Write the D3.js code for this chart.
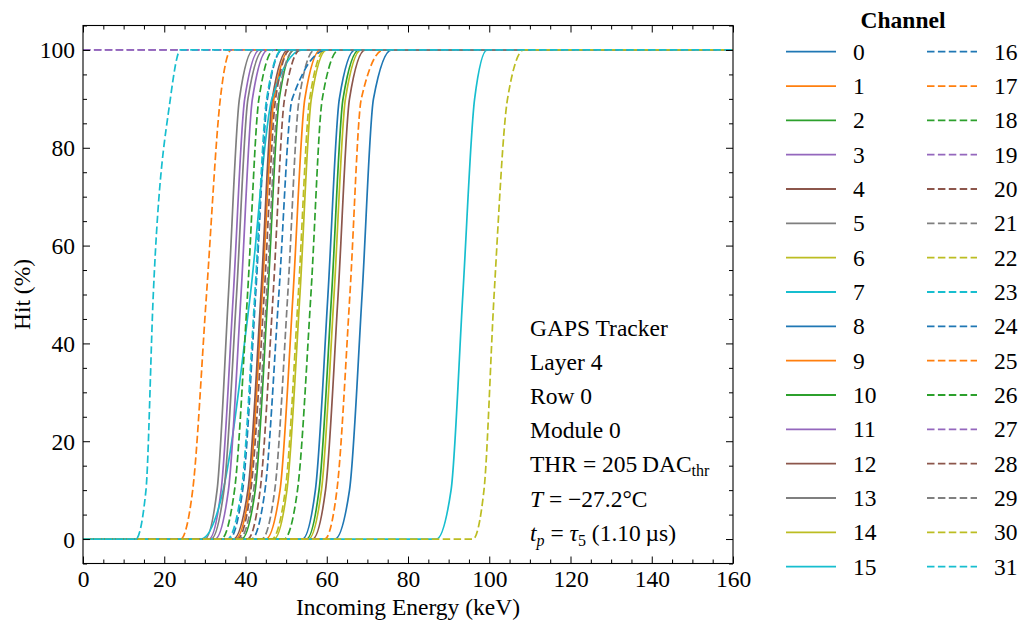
<!DOCTYPE html>
<html>
<head>
<meta charset="utf-8">
<script src="https://cdn.jsdelivr.net/npm/d3@7"></script>
<style>
  html, body { margin: 0; padding: 0; background: #fff; }
  svg { display: block; }
  text { font-family: "Liberation Serif", "DejaVu Serif", serif; fill: #000; }
</style>
</head>
<body>
<svg id="chart" width="1019" height="623"></svg>
<script>
// ---------------- data ----------------
const channelIds = d3.range(0, 32);
// hit levels (%) at which the crossing energies below are read
const hitLevels = [0, 10, 50, 90, 100];
// energy (keV) at which each channel reaches hitLevels; null = constant channel
const riseEnergies = [
  [54.0, 57.2, 60.3, 63.1, 67.0],   // 0
  [37.5, 41.0, 44.1, 47.0, 51.0],   // 1
  [39.0, 42.4, 45.5, 48.3, 52.0],   // 2
  [31.0, 34.0, 37.0, 39.8, 43.5],   // 3
  [37.0, 40.6, 43.8, 46.6, 50.5],   // 4
  [30.0, 33.0, 35.8, 38.5, 42.0],   // 5
  [47.0, 50.2, 53.4, 56.2, 60.0],   // 6
  [29.0, 34.5, 41.2, 46.5, 54.0],   // 7
  [62.0, 65.6, 68.7, 71.5, 76.0],   // 8
  [45.0, 48.5, 51.7, 54.6, 58.5],   // 9
  [55.0, 58.1, 61.2, 64.0, 68.0],   // 10
  [32.5, 35.8, 38.9, 41.7, 45.5],   // 11
  [56.5, 59.7, 62.8, 65.6, 69.5],   // 12
  [31.5, 34.7, 37.8, 40.6, 44.5],   // 13
  [55.5, 58.7, 61.8, 64.6, 68.5],   // 14
  [87.0, 90.6, 93.5, 96.4, 99.5],   // 15
  [36.0, 39.3, 42.5, 45.4, 49.0],   // 16
  [24.0, 27.0, 30.4, 33.8, 36.5],   // 17
  [34.0, 37.3, 40.5, 43.3, 47.0],   // 18
  null,                             // 19
  [40.5, 43.6, 46.8, 49.6, 53.5],   // 20
  [44.0, 47.2, 50.4, 53.2, 57.0],   // 21
  [46.5, 49.8, 53.0, 55.8, 59.5],   // 22
  [35.5, 39.0, 42.3, 45.2, 49.0],   // 23
  [41.5, 44.8, 48.2, 51.5, 60.0],   // 24
  [59.5, 62.5, 65.7, 68.5, 74.0],   // 25
  [49.5, 52.8, 56.1, 58.9, 63.0],   // 26
  null,                             // 27
  [38.0, 41.3, 44.6, 47.4, 51.0],   // 28
  [38.5, 42.0, 45.2, 48.0, 52.0],   // 29
  [96.0, 98.7, 101.2, 104.5, 108.5],// 30
  [13.0, 15.5, 17.3, 21.5, 24.0]    // 31
];
// channels that stay at a constant hit rate (%)
const constantHit = { 19: 100, 27: 100 };
const xTicks = [0, 20, 40, 60, 80, 100, 120, 140, 160];
const yTicks = [0, 20, 40, 60, 80, 100];
const annotation = ["GAPS Tracker", "Layer 4", "Row 0", "Module 0"];

// ---------------- layout ----------------
const svg = d3.select("#chart");
const L = 83, R = 733, T = 25.5, B = 563.5;
const x = d3.scaleLinear().domain([0, 160]).range([L, R]);
const y = d3.scaleLinear().domain([-5, 105]).range([B, T]);
const palette = ["#1f77b4", "#ff7f0e", "#2ca02c", "#9467bd", "#8c564b", "#7f7f7f", "#bcbd22", "#17becf"];
const colorOf = c => palette[c % 8];
const dashOf = c => c >= 16 ? "7.5,3.4" : null;
const fs = "23.5px", fsSub = "16px";

svg.append("defs").append("clipPath").attr("id", "clip")
  .append("rect").attr("x", L).attr("y", T).attr("width", R - L).attr("height", B - T);

function pointsFor(c) {
  if (riseEnergies[c] === null) {
    const h = constantHit[c];
    return [[0, h], [160, h]];
  }
  const pts = [[0, 0]];
  riseEnergies[c].forEach((e, i) => pts.push([e, hitLevels[i]]));
  pts.push([160, 100]);
  return pts;
}
const line = d3.line().x(d => x(d[0])).y(d => y(d[1])).curve(d3.curveMonotoneX);

const gLines = svg.append("g").attr("clip-path", "url(#clip)");
channelIds.forEach(c => {
  gLines.append("path")
    .attr("d", line(pointsFor(c)))
    .attr("fill", "none")
    .attr("stroke", colorOf(c))
    .attr("stroke-width", 1.7)
    .attr("stroke-dasharray", dashOf(c))
    .attr("stroke-linejoin", "round");
});

// ---------------- axes ----------------
function addAxis(axisFn, scale, ticks, minor, transform, showLabels) {
  const g = svg.append("g").attr("transform", transform);
  g.call(axisFn(scale).tickValues(minor).tickSize(-4).tickFormat(""));
  g.selectAll(".domain").remove();
  const g2 = svg.append("g").attr("transform", transform);
  g2.call(axisFn(scale).tickValues(ticks).tickSize(-7).tickPadding(10)
    .tickFormat(showLabels ? d3.format("d") : ""));
  g2.selectAll(".domain").remove();
  g2.selectAll("text").style("font-size", fs).style("font-family", '"Liberation Serif", serif');
  svg.selectAll(".tick line").attr("stroke", "#000").attr("stroke-width", 1);
  return g2;
}
const xMinor = d3.range(0, 161, 5).filter(v => v % 20 !== 0);
const yMinor = d3.range(-5, 106, 5).filter(v => v % 20 !== 0);
const gx = addAxis(d3.axisBottom, x, xTicks, xMinor, `translate(0,${B})`, true);
gx.selectAll("text").attr("y", 23).attr("dy", 0);
addAxis(d3.axisTop, x, xTicks, xMinor, `translate(0,${T})`, false);
const gy = addAxis(d3.axisLeft, y, yTicks, yMinor, `translate(${L},0)`, true);
gy.selectAll("text").attr("x", -8).attr("dy", "0.34em");
addAxis(d3.axisRight, y, yTicks, yMinor, `translate(${R},0)`, false);

svg.append("rect").attr("x", L).attr("y", T).attr("width", R - L).attr("height", B - T)
  .attr("fill", "none").attr("stroke", "#000").attr("stroke-width", 1.1);

svg.append("text").attr("x", (L + R) / 2).attr("y", 615).attr("text-anchor", "middle")
  .style("font-size", fs).text("Incoming Energy (keV)");
svg.append("text").attr("transform", `translate(30,${(T + B) / 2}) rotate(-90)`)
  .attr("text-anchor", "middle").style("font-size", fs).text("Hit (%)");

// ---------------- annotation ----------------
const ax = 530, ay0 = 336, adY = 34.1;
annotation.forEach((s, i) => {
  svg.append("text").attr("x", ax).attr("y", ay0 + i * adY).style("font-size", fs).text(s);
});
const t5 = svg.append("text").attr("x", ax).attr("y", ay0 + 4 * adY).style("font-size", fs);
t5.append("tspan").text("THR = 205\u2009DAC");
t5.append("tspan").attr("dy", 4).style("font-size", fsSub).text("thr");
const t6 = svg.append("text").attr("x", ax).attr("y", ay0 + 5 * adY).style("font-size", fs);
t6.append("tspan").style("font-style", "italic").text("T");
t6.append("tspan").text(" = \u221227.2\u00B0C");
const t7 = svg.append("text").attr("x", ax).attr("y", ay0 + 6 * adY).style("font-size", fs);
t7.append("tspan").style("font-style", "italic").text("t");
t7.append("tspan").attr("dy", 5).style("font-size", fsSub).style("font-style", "italic").text("p");
t7.append("tspan").attr("dy", -5).text(" = ");
t7.append("tspan").style("font-style", "italic").text("\u03C4");
t7.append("tspan").attr("dy", 5).style("font-size", fsSub).text("5");
t7.append("tspan").attr("dy", -5).text(" (1.10\u2009\u00B5s)");

// ---------------- legend ----------------
svg.append("text").attr("x", 903).attr("y", 28).attr("text-anchor", "middle")
  .style("font-size", fs).style("font-weight", "bold").text("Channel");
const rowY0 = 51.7, rowDy = 34.33;
channelIds.forEach(c => {
  const col = c < 16 ? 0 : 1;
  const row = c % 16;
  const yy = rowY0 + row * rowDy;
  const x0 = col === 0 ? 786 : 927;
  svg.append("line").attr("x1", x0).attr("x2", x0 + 50).attr("y1", yy).attr("y2", yy)
    .attr("stroke", colorOf(c)).attr("stroke-width", 1.8).attr("stroke-dasharray", dashOf(c));
  svg.append("text").attr("x", x0 + 67).attr("y", yy + 8).style("font-size", fs).text(String(c));
});
</script>
</body>
</html>
